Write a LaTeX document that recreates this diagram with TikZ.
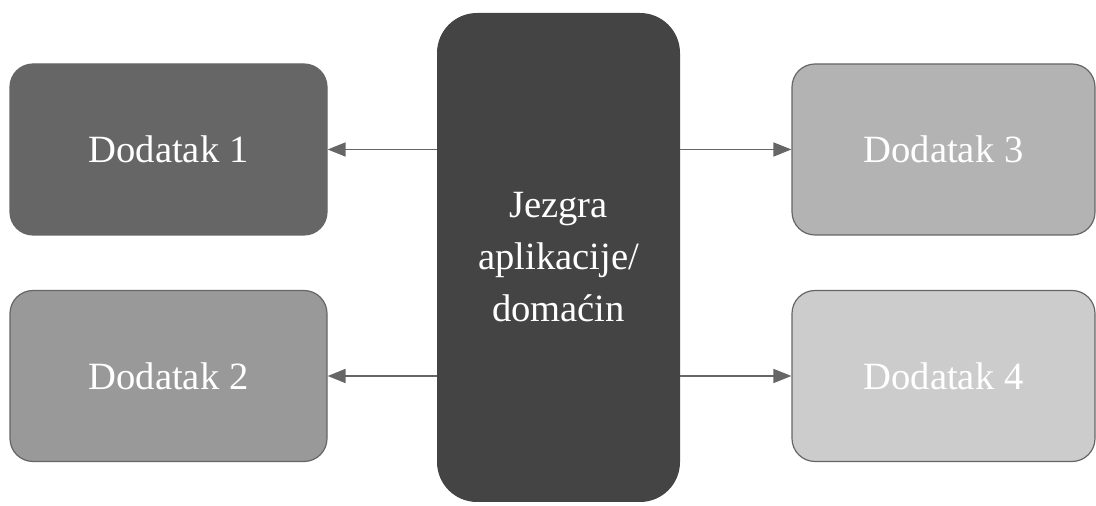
\documentclass[tikz,border=0pt]{standalone}
\usepackage{fontspec}
\setmainfont{Liberation Serif}
\usetikzlibrary{arrows.meta}
\definecolor{hostfill}{HTML}{444444}
\definecolor{edgegray}{HTML}{666666}
\definecolor{plugA}{HTML}{666666}
\definecolor{plugB}{HTML}{999999}
\definecolor{plugC}{HTML}{B3B3B3}
\definecolor{plugD}{HTML}{CCCCCC}
\tikzset{
  plugin/.style={draw=edgegray, line width=0.6pt, rounded corners=11.5pt,
    minimum width=158.5pt, minimum height=85.5pt, inner sep=0pt,
    text=white, font=\fontsize{19.3}{26}\selectfont},
  narrowplugin/.style={plugin, minimum width=151.5pt},
  host/.style={fill=hostfill, rounded corners=20pt,
    minimum width=121.5pt, minimum height=244.5pt, inner sep=0pt,
    text=white, align=center, font=\fontsize{19.3}{26}\selectfont},
  link/.style={draw=edgegray, line width=0.75pt,
    -{Triangle[length=9pt,width=7pt]}}
}
\begin{document}
\begin{tikzpicture}[x=0.5pt,y=-0.5pt]
  \useasboundingbox (0,0) rectangle (1096,506);
  % central application core
  \node[host] (core) at (558.5,257.5) {Jezgra\\aplikacije/\\domaćin};
  % plug-ins
  \node[plugin, fill=plugA] (p1) at (168.5,149.5) {Dodatak 1};
  \node[plugin, fill=plugB] (p2) at (168.5,376) {Dodatak 2};
  \node[narrowplugin, fill=plugC] (p3) at (943.5,149.5) {Dodatak 3};
  \node[narrowplugin, fill=plugD] (p4) at (943.5,376) {Dodatak 4};
  % connections from the core to each plug-in
  \draw[link] (core.west |- p1.east) -- (p1.east);
  \draw[link] (core.west |- p2.east) -- (p2.east);
  \draw[link] (core.east |- p3.west) -- (p3.west);
  \draw[link] (core.east |- p4.west) -- (p4.west);
\end{tikzpicture}
\end{document}
